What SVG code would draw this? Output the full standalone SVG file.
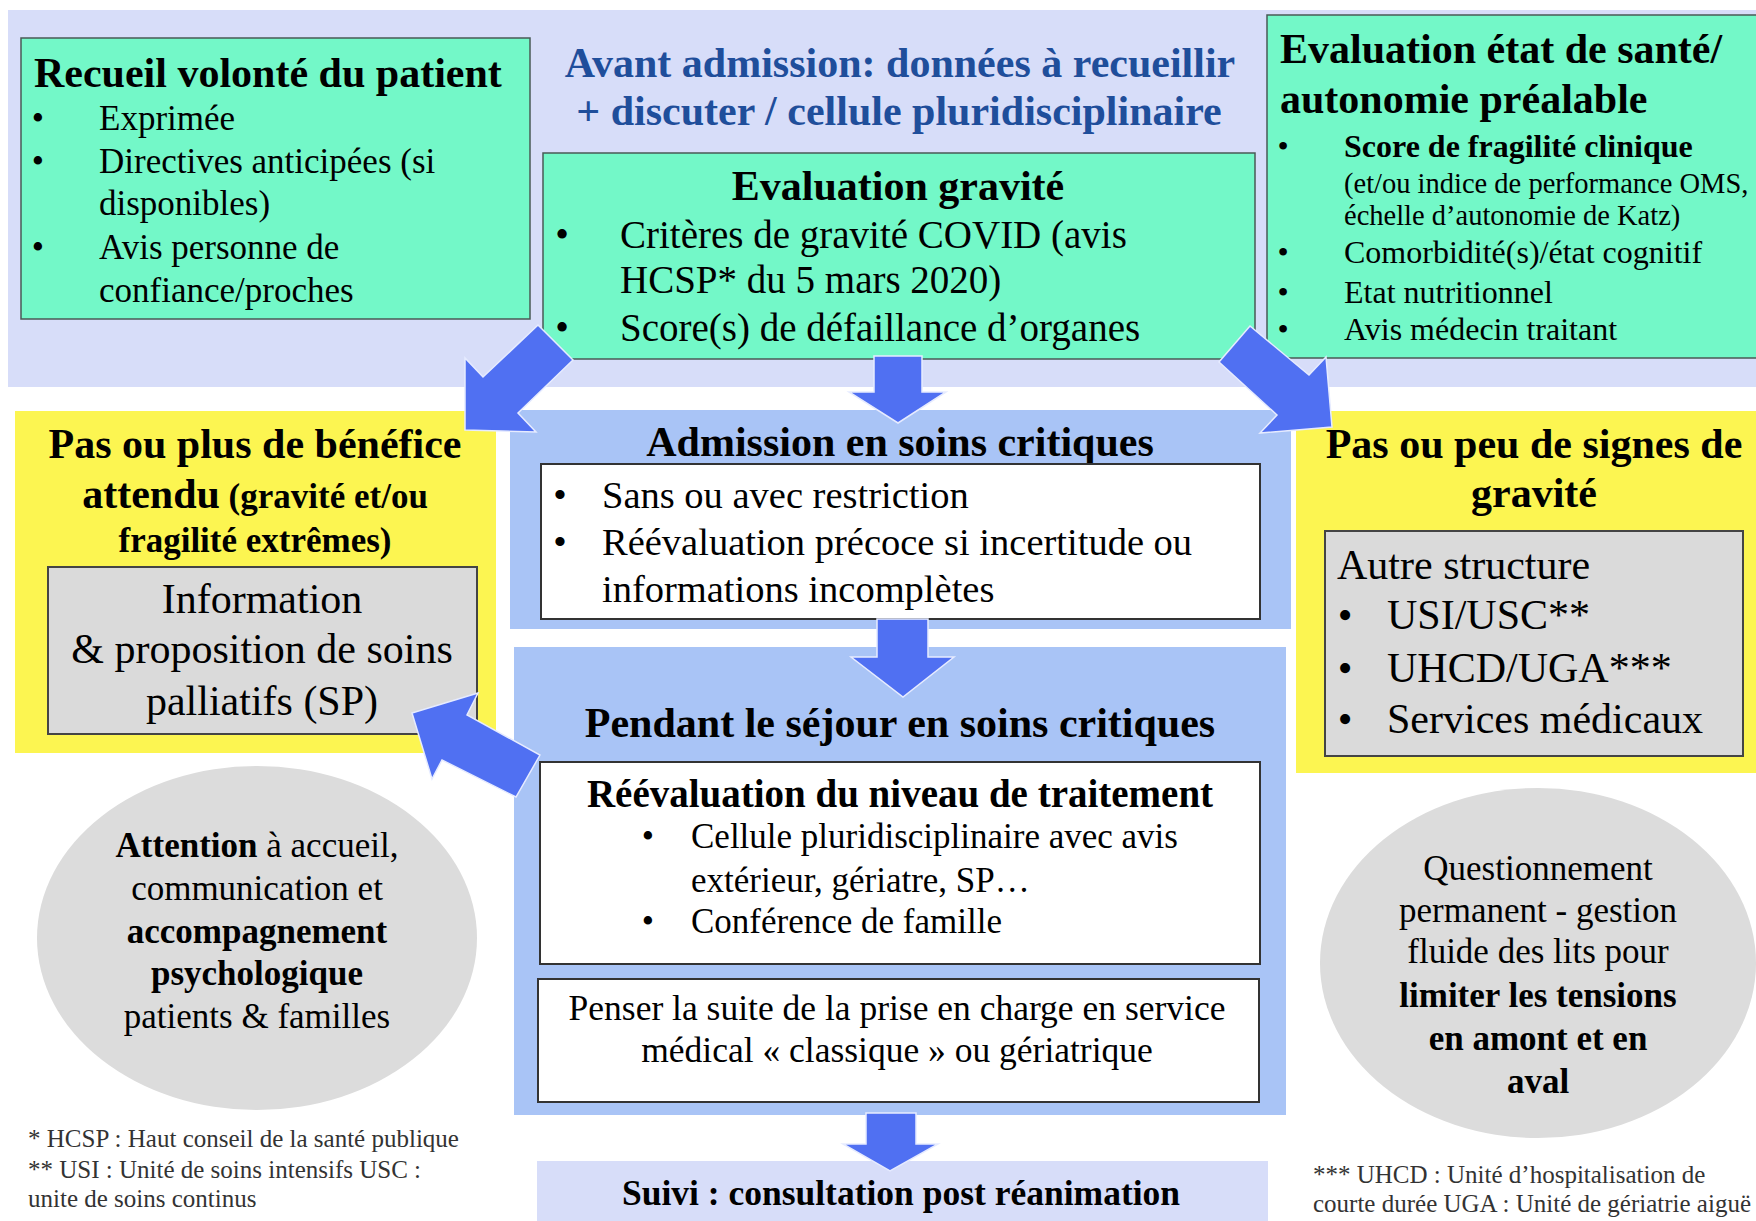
<svg xmlns="http://www.w3.org/2000/svg" width="1756" height="1221" viewBox="0 0 1756 1221">
<style>
text{font-family:"Liberation Serif","Times New Roman",serif;fill:#000}
.b{font-weight:bold}
.c{text-anchor:middle}
.mint{fill:#73F8C8;stroke:#4A5A55;stroke-width:1.5}
.yel{fill:#FCF551}
.blu{fill:#A9C4F6}
.lav{fill:#D7DDF9}
.gry{fill:#DADADA;stroke:#444;stroke-width:2}
.wht{fill:#FFFFFF;stroke:#333;stroke-width:2}
.ell{fill:#DCDCDC}
.arr{fill:#5070F2;stroke:#E6EBFF;stroke-width:1.5;stroke-linejoin:miter}
.blue-t{fill:#1F4E9B}
.fn{fill:#333;font-size:25px}
</style>
<rect class="lav" x="8" y="10" width="1748" height="377"/>
<g id="titre-avant-admission">
<text class="b c blue-t" x="900" y="77" font-size="42">Avant admission: données à recueillir</text>
<text class="b c blue-t" x="899" y="125" font-size="42">+ discuter / cellule pluridisciplinaire</text>
</g>
<g id="recueil-volonte">
<rect class="mint" x="21" y="38" width="509" height="281"/>
<text class="b" x="34" y="87" font-size="42">Recueil volonté du patient</text>
<g font-size="35">
<text class="c" x="38" y="130">•</text><text x="99" y="130">Exprimée</text>
<text class="c" x="38" y="173">•</text><text x="99" y="173">Directives anticipées (si</text>
<text x="99" y="215">disponibles)</text>
<text class="c" x="38" y="259">•</text><text x="99" y="259">Avis personne de</text>
<text x="99" y="302">confiance/proches</text>
</g>
</g>
<g id="evaluation-gravite">
<rect class="mint" x="543" y="153" width="712" height="206"/>
<text class="b c" x="898" y="200" font-size="42">Evaluation gravité</text>
<g font-size="39">
<text class="c" x="562" y="248">•</text><text x="620" y="248">Critères de gravité COVID (avis</text>
<text x="620" y="293">HCSP* du 5 mars 2020)</text>
<text class="c" x="562" y="341">•</text><text x="620" y="341">Score(s) de défaillance d’organes</text>
</g>
</g>
<g id="evaluation-etat-sante">
<rect class="mint" x="1267" y="15" width="495" height="343"/>
<text class="b" x="1280" y="63" font-size="42">Evaluation état de santé/</text>
<text class="b" x="1280" y="113" font-size="42">autonomie préalable</text>
<text class="c" x="1283" y="157" font-size="32">•</text><text class="b" x="1344" y="157" font-size="32">Score de fragilité clinique</text>
<text x="1344" y="193" font-size="28.5">(et/ou indice de performance OMS,</text>
<text x="1344" y="225" font-size="28.5">échelle d’autonomie de Katz)</text>
<g font-size="32">
<text class="c" x="1283" y="263">•</text><text x="1344" y="263">Comorbidité(s)/état cognitif</text>
<text class="c" x="1283" y="303">•</text><text x="1344" y="303">Etat nutritionnel</text>
<text class="c" x="1283" y="340">•</text><text x="1344" y="340">Avis médecin traitant</text>
</g>
</g>
<g id="pas-de-benefice">
<rect class="yel" x="15" y="411" width="481" height="342"/>
<text class="b c" x="255" y="458" font-size="42">Pas ou plus de bénéfice</text>
<text class="b c" x="255" y="508" font-size="42">attendu<tspan font-size="35"> (gravité et/ou</tspan></text>
<text class="b c" x="255" y="552" font-size="35">fragilité extrêmes)</text>
</g>
<g id="soins-palliatifs">
<rect class="gry" x="48" y="567" width="429" height="167"/>
<g font-size="42">
<text class="c" x="262" y="613">Information</text>
<text class="c" x="262" y="663">&amp; proposition de soins</text>
<text class="c" x="262" y="715">palliatifs (SP)</text>
</g>
</g>
<g id="admission">
<rect class="blu" x="510" y="410" width="781" height="219"/>
<text class="b c" x="900" y="456" font-size="42">Admission en soins critiques</text>
<rect class="wht" x="541" y="464" width="719" height="155"/>
<g font-size="38.5">
<text class="c" x="560" y="508">•</text><text x="602" y="508">Sans ou avec restriction</text>
<text class="c" x="560" y="555">•</text><text x="602" y="555">Réévaluation précoce si incertitude ou</text>
<text x="602" y="602">informations incomplètes</text>
</g>
</g>
<g id="pendant-sejour">
<rect class="blu" x="514" y="647" width="772" height="468"/>
<text class="b c" x="900" y="737" font-size="42">Pendant le séjour en soins critiques</text>
<rect class="wht" x="540" y="762" width="720" height="202"/>
<text class="b c" x="900" y="807" font-size="39">Réévaluation du niveau de traitement</text>
<g font-size="35">
<text class="c" x="648" y="848">•</text><text x="691" y="848">Cellule pluridisciplinaire avec avis</text>
<text x="691" y="892">extérieur, gériatre, SP…</text>
<text class="c" x="648" y="933">•</text><text x="691" y="933">Conférence de famille</text>
</g>
<rect class="wht" x="538" y="979" width="721" height="123"/>
<g font-size="35.5">
<text class="c" x="897" y="1020">Penser la suite de la prise en charge en service</text>
<text class="c" x="897" y="1062">médical « classique » ou gériatrique</text>
</g>
</g>
<g id="suivi">
<rect class="lav" x="537" y="1161" width="731" height="70"/>
<text class="b c" x="901" y="1205" font-size="35.5">Suivi : consultation post réanimation</text>
</g>
<g id="pas-de-signes">
<rect class="yel" x="1296" y="411" width="470" height="362"/>
<text class="b c" x="1534" y="458" font-size="42">Pas ou peu de signes de</text>
<text class="b c" x="1534" y="507" font-size="42">gravité</text>
</g>
<g id="autre-structure">
<rect class="gry" x="1325" y="531" width="418" height="225"/>
<g font-size="42">
<text x="1337" y="579">Autre structure</text>
<text class="c" x="1345" y="629">•</text><text x="1387" y="629">USI/USC**</text>
<text class="c" x="1345" y="682">•</text><text x="1387" y="682">UHCD/UGA***</text>
<text class="c" x="1345" y="733">•</text><text x="1387" y="733">Services médicaux</text>
</g>
</g>
<g id="attention">
<ellipse class="ell" cx="257" cy="938" rx="220" ry="172"/>
<g font-size="35">
<text class="c" x="257" y="857"><tspan class="b">Attention</tspan> à accueil,</text>
<text class="c" x="257" y="900">communication et</text>
<text class="b c" x="257" y="943">accompagnement</text>
<text class="b c" x="257" y="985">psychologique</text>
<text class="c" x="257" y="1028">patients &amp; familles</text>
</g>
</g>
<g id="questionnement">
<ellipse class="ell" cx="1538" cy="963" rx="218" ry="175"/>
<g font-size="35">
<text class="c" x="1538" y="880">Questionnement</text>
<text class="c" x="1538" y="922">permanent - gestion</text>
<text class="c" x="1538" y="963">fluide des lits pour</text>
<text class="b c" x="1538" y="1007">limiter les tensions</text>
<text class="b c" x="1538" y="1050">en amont et en</text>
<text class="b c" x="1538" y="1093">aval</text>
</g>
</g>
<g id="notes">
<text class="fn" x="28" y="1147">* HCSP : Haut conseil de la santé publique</text>
<text class="fn" x="28" y="1178">** USI : Unité de soins intensifs USC :</text>
<text class="fn" x="28" y="1207">unite de soins continus</text>
<text class="fn" x="1313" y="1183">*** UHCD : Unité d’hospitalisation de</text>
<text class="fn" x="1313" y="1212">courte durée UGA : Unité de gériatrie aiguë</text>
</g>
<g id="connecteurs">
<polygon class="arr" points="538,325 573,360 518,413 536,432 465,430 465,358 483,377"/>
<polygon class="arr" points="874,356 922,356 922,392 946,392 898,423 849,392 874,392"/>
<polygon class="arr" points="1250,326 1309,375 1326,357 1332,427 1260,433 1277,415 1219,362"/>
<polygon class="arr" points="877,619 928,619 928,657 954,657 903,697 851,657 877,657"/>
<polygon class="arr" points="540,755 516,797 442,760 432,779 412,713 478,693 467,715"/>
<polygon class="arr" points="866,1113 916,1113 916,1144 938,1144 890,1171 843,1144 866,1144"/>
</g>
</svg>
